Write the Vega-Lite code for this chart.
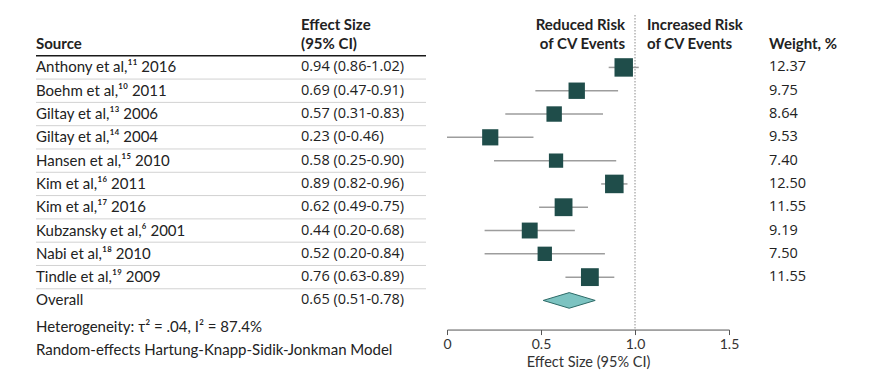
{
  "$schema": "https://vega.github.io/schema/vega-lite/v6.json",
  "background": "white",
  "padding": {"left": 35, "top": 14, "right": 0, "bottom": 0},
  "config": {
    "view": {"stroke": null},
    "font": "Lato",
    "text": {"fontSize": 15, "color": "#222222", "align": "left", "baseline": "middle"},
    "axis": {"labelFont": "Lato", "titleFont": "Lato"}
  },
  "datasets": {
    "rows": [
      {"row": "1", "source": "Anthony et al,¹¹ 2016", "ci": "0.94 (0.86-1.02)", "es": 0.94, "lo": 0.86, "hi": 1.02, "weight": 12.37},
      {"row": "2", "source": "Boehm et al,¹⁰ 2011", "ci": "0.69 (0.47-0.91)", "es": 0.69, "lo": 0.47, "hi": 0.91, "weight": 9.75},
      {"row": "3", "source": "Giltay et al,¹³ 2006", "ci": "0.57 (0.31-0.83)", "es": 0.57, "lo": 0.31, "hi": 0.83, "weight": 8.64},
      {"row": "4", "source": "Giltay et al,¹⁴ 2004", "ci": "0.23 (0-0.46)", "es": 0.23, "lo": 0.0, "hi": 0.46, "weight": 9.53},
      {"row": "5", "source": "Hansen et al,¹⁵ 2010", "ci": "0.58 (0.25-0.90)", "es": 0.58, "lo": 0.25, "hi": 0.90, "weight": 7.40},
      {"row": "6", "source": "Kim et al,¹⁶ 2011", "ci": "0.89 (0.82-0.96)", "es": 0.89, "lo": 0.82, "hi": 0.96, "weight": 12.50},
      {"row": "7", "source": "Kim et al,¹⁷ 2016", "ci": "0.62 (0.49-0.75)", "es": 0.62, "lo": 0.49, "hi": 0.75, "weight": 11.55},
      {"row": "8", "source": "Kubzansky et al,⁶ 2001", "ci": "0.44 (0.20-0.68)", "es": 0.44, "lo": 0.20, "hi": 0.68, "weight": 9.19},
      {"row": "9", "source": "Nabi et al,¹⁸ 2010", "ci": "0.52 (0.20-0.84)", "es": 0.52, "lo": 0.20, "hi": 0.84, "weight": 7.50},
      {"row": "10", "source": "Tindle et al,¹⁹ 2009", "ci": "0.76 (0.63-0.89)", "es": 0.76, "lo": 0.63, "hi": 0.89, "weight": 11.55},
      {"row": "11", "source": "Overall", "ci": "0.65 (0.51-0.78)", "es": 0.65, "lo": 0.51, "hi": 0.78, "weight": null}
    ],
    "tableHeaders": [
      {"row": "h1", "col": "ci", "txt": "Effect Size"},
      {"row": "h2", "col": "source", "txt": "Source"},
      {"row": "h2", "col": "ci", "txt": "(95% CI)"}
    ],
    "notes": [
      {"row": "f1", "txt": "Heterogeneity: τ² = .04, I² = 87.4%"},
      {"row": "f2", "txt": "Random-effects Hartung-Knapp-Sidik-Jonkman Model"}
    ],
    "riskHeaders": [
      {"row": "h1", "side": "reduced", "txt": "Reduced Risk"},
      {"row": "h2", "side": "reduced", "txt": "of CV Events"},
      {"row": "h1", "side": "increased", "txt": "Increased Risk"},
      {"row": "h2", "side": "increased", "txt": "of CV Events"}
    ]
  },
  "spacing": 21,
  "bounds": "flush",
  "hconcat": [
    {
      "width": 390,
      "height": {"step": 23.3},
      "layer": [
        {
          "data": {"name": "rows"},
          "transform": [{"filter": "datum.weight != null"}],
          "mark": {"type": "rule", "color": "#d2d2d2", "strokeWidth": 1, "yOffset": 11.65},
          "encoding": {
            "y": {"field": "row", "type": "ordinal", "axis": null,
                  "scale": {"type": "point", "padding": 0.25, "domain": ["h1","h2","1","2","3","4","5","6","7","8","9","10","11","f1","f2"]}}
          }
        },
        {
          "data": {"values": [{}]},
          "mark": {"type": "rule", "color": "#1a1a1a", "strokeWidth": 1.6, "yOffset": -11.65},
          "encoding": {"y": {"datum": "1", "type": "ordinal"}}
        },
        {
          "data": {"name": "rows"},
          "mark": {"type": "text"},
          "encoding": {
            "x": {"datum": "source", "type": "nominal", "axis": null,
                  "scale": {"type": "point", "domain": ["source", "ci"], "padding": 0.2358, "align": 0}},
            "y": {"field": "row", "type": "ordinal"},
            "text": {"field": "source"}
          }
        },
        {
          "data": {"name": "rows"},
          "mark": {"type": "text", "font": "Open Sans", "fontSize": 14.5},
          "encoding": {
            "x": {"datum": "ci", "type": "nominal"},
            "y": {"field": "row", "type": "ordinal"},
            "text": {"field": "ci"}
          }
        },
        {
          "data": {"name": "tableHeaders"},
          "transform": [{"filter": "datum.row == 'h1'"}],
          "mark": {"type": "text", "fontWeight": "bold", "yOffset": 4.5},
          "encoding": {
            "x": {"field": "col", "type": "nominal"},
            "y": {"field": "row", "type": "ordinal"},
            "text": {"field": "txt"}
          }
        },
        {
          "data": {"name": "tableHeaders"},
          "transform": [{"filter": "datum.row == 'h2'"}],
          "mark": {"type": "text", "fontWeight": "bold"},
          "encoding": {
            "x": {"field": "col", "type": "nominal"},
            "y": {"field": "row", "type": "ordinal"},
            "text": {"field": "txt"}
          }
        },
        {
          "data": {"name": "notes"},
          "mark": {"type": "text", "yOffset": 3},
          "encoding": {
            "x": {"datum": "source", "type": "nominal"},
            "y": {"field": "row", "type": "ordinal"},
            "text": {"field": "txt"}
          }
        }
      ]
    },
    {
      "width": 282,
      "height": {"step": 23.3},
      "layer": [
        {
          "data": {"values": [{}]},
          "mark": {"type": "rule", "color": "#8c8c8c", "strokeWidth": 1, "strokeDash": [1.5, 1.5]},
          "encoding": {
            "x": {"datum": 1, "type": "quantitative",
                  "scale": {"domain": [0, 1.5], "nice": false, "zero": false},
                  "axis": {"orient": "bottom", "values": [0, 0.5, 1, 1.5],
                           "labelExpr": "datum.value == 0 ? '0' : format(datum.value, '.1f')",
                           "title": "Effect Size (95% CI)", "grid": false,
                           "domainColor": "#555555", "tickColor": "#555555", "tickSize": 5,
                           "labelFontSize": 14, "titleFontSize": 14.5, "titleFontWeight": "normal",
                           "labelColor": "#333333", "titleColor": "#333333",
                           "labelPadding": 3, "titlePadding": 4, "labelFlush": false}}
          }
        },
        {
          "data": {"name": "rows"},
          "transform": [{"filter": "datum.weight != null"}],
          "mark": {"type": "rule", "color": "#9d9d9d", "strokeWidth": 1.5},
          "encoding": {
            "x": {"field": "lo", "type": "quantitative"},
            "x2": {"field": "hi"},
            "y": {"field": "row", "type": "ordinal", "axis": null,
                  "scale": {"type": "point", "padding": 0.25, "domain": ["h1","h2","1","2","3","4","5","6","7","8","9","10","11","pad"]}}
          }
        },
        {
          "data": {"name": "rows"},
          "transform": [{"filter": "datum.weight != null"}],
          "mark": {"type": "point", "shape": "square", "filled": true, "opacity": 1, "color": "#1f4d4a"},
          "encoding": {
            "x": {"field": "es", "type": "quantitative"},
            "y": {"field": "row", "type": "ordinal"},
            "size": {"field": "weight", "type": "quantitative", "legend": null,
                     "scale": {"type": "linear", "domain": [0, 12.5], "range": [0, 344], "zero": true}}
          }
        },
        {
          "data": {"name": "rows"},
          "transform": [{"filter": "datum.weight == null"}],
          "mark": {"type": "point", "shape": "M-1,0L0,-0.3L1,0L0,0.3Z", "filled": true, "opacity": 1,
                   "fill": "#7cc3c1", "stroke": "#2e6b68", "strokeWidth": 1, "size": 2704},
          "encoding": {
            "x": {"field": "es", "type": "quantitative"},
            "y": {"field": "row", "type": "ordinal"}
          }
        },
        {
          "data": {"name": "riskHeaders"},
          "transform": [{"filter": "datum.side == 'reduced' && datum.row == 'h1'"}],
          "mark": {"type": "text", "fontWeight": "bold", "align": "right", "dx": -10, "yOffset": 4.5},
          "encoding": {"x": {"datum": 1, "type": "quantitative"}, "y": {"field": "row", "type": "ordinal"}, "text": {"field": "txt"}}
        },
        {
          "data": {"name": "riskHeaders"},
          "transform": [{"filter": "datum.side == 'reduced' && datum.row == 'h2'"}],
          "mark": {"type": "text", "fontWeight": "bold", "align": "right", "dx": -10},
          "encoding": {"x": {"datum": 1, "type": "quantitative"}, "y": {"field": "row", "type": "ordinal"}, "text": {"field": "txt"}}
        },
        {
          "data": {"name": "riskHeaders"},
          "transform": [{"filter": "datum.side == 'increased' && datum.row == 'h1'"}],
          "mark": {"type": "text", "fontWeight": "bold", "align": "left", "dx": 12, "yOffset": 4.5},
          "encoding": {"x": {"datum": 1, "type": "quantitative"}, "y": {"field": "row", "type": "ordinal"}, "text": {"field": "txt"}}
        },
        {
          "data": {"name": "riskHeaders"},
          "transform": [{"filter": "datum.side == 'increased' && datum.row == 'h2'"}],
          "mark": {"type": "text", "fontWeight": "bold", "align": "left", "dx": 12},
          "encoding": {"x": {"datum": 1, "type": "quantitative"}, "y": {"field": "row", "type": "ordinal"}, "text": {"field": "txt"}}
        }
      ]
    },
    {
      "width": 119,
      "height": {"step": 23.3},
      "layer": [
        {
          "data": {"name": "rows"},
          "transform": [{"filter": "datum.weight != null"}],
          "mark": {"type": "text", "font": "Open Sans", "fontSize": 14.5},
          "encoding": {
            "x": {"datum": "weight", "type": "nominal", "axis": null,
                  "scale": {"type": "point", "domain": ["weight"], "padding": 0, "align": 0.16}},
            "y": {"field": "row", "type": "ordinal", "axis": null,
                  "scale": {"type": "point", "padding": 0.25, "domain": ["h1","h2","1","2","3","4","5","6","7","8","9","10","11","pad"]}},
            "text": {"field": "weight", "type": "quantitative", "format": ".2f"}
          }
        },
        {
          "data": {"values": [{"row": "h2", "txt": "Weight, %"}]},
          "mark": {"type": "text", "fontWeight": "bold"},
          "encoding": {
            "x": {"datum": "weight", "type": "nominal"},
            "y": {"field": "row", "type": "ordinal"},
            "text": {"field": "txt"}
          }
        }
      ]
    }
  ]
}
